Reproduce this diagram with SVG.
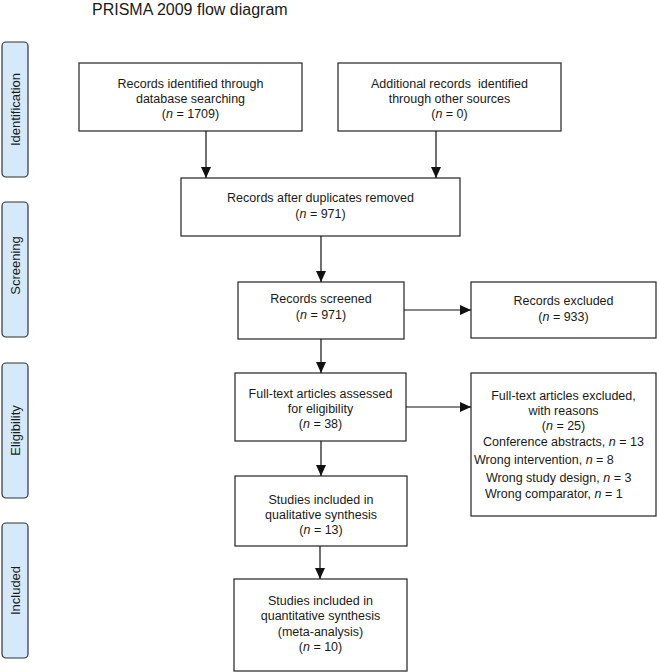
<svg xmlns="http://www.w3.org/2000/svg" width="657" height="672" viewBox="0 0 657 672">
<defs>
<marker id="arr" markerUnits="userSpaceOnUse" markerWidth="12" markerHeight="12" viewBox="0 0 12 12" refX="11" refY="6" orient="auto">
<path d="M0,1 L11,6 L0,11 Z" fill="#111"/>
</marker>
</defs>
<style>
text{font-family:"Liberation Sans",Arial,sans-serif;font-size:12.5px;fill:#1a1a1a;text-anchor:middle}
.title{font-size:16px;text-anchor:start}
.sl{font-size:13px}
.box{fill:#fff;stroke:#222;stroke-width:1.2}
.side{fill:#d6e9fb;stroke:#333;stroke-width:1.2}
.conn{stroke:#111;stroke-width:1.2;fill:none;marker-end:url(#arr)}
.i{font-style:italic}
.l{text-anchor:start}
</style>
<rect width="657" height="672" fill="#fff"/>
<text class="title" x="92" y="15">PRISMA 2009 flow diagram</text>
<g id="phase-identification"><rect class="side" x="2" y="42" width="26" height="135" rx="4"/><text class="sl" transform="translate(19.5,109.5) rotate(-90)">Identification</text></g>
<g id="phase-screening"><rect class="side" x="2" y="202" width="26" height="135" rx="4"/><text class="sl" transform="translate(19.5,265.5) rotate(-90)">Screening</text></g>
<g id="phase-eligibility"><rect class="side" x="2" y="363" width="26" height="135" rx="4"/><text class="sl" transform="translate(19.5,430.5) rotate(-90)">Eligibility</text></g>
<g id="phase-included"><rect class="side" x="2" y="523" width="26" height="135" rx="4"/><text class="sl" transform="translate(19.5,590.5) rotate(-90)">Included</text></g>
<g id="db"><rect class="box" x="79" y="63" width="223" height="68"/><text x="190.5" y="87.5">Records identified through</text><text x="190.5" y="102.5">database searching</text><text x="190.5" y="117.5">(<tspan class="i">n</tspan> = 1709)</text></g>
<g id="other"><rect class="box" x="338" y="63" width="223" height="68"/><text x="449.5" y="88">Additional records&#160; identified</text><text x="449.5" y="103">through other sources</text><text x="449.5" y="118">(<tspan class="i">n</tspan> = 0)</text></g>
<g id="dedup"><rect class="box" x="181" y="178" width="279" height="58"/><text x="320.5" y="201.5">Records after duplicates removed</text><text x="320.5" y="217.5">(<tspan class="i">n</tspan> = 971)</text></g>
<g id="screened"><rect class="box" x="238" y="282" width="166" height="57"/><text x="321" y="302.5">Records screened</text><text x="321" y="318.5">(<tspan class="i">n</tspan> = 971)</text></g>
<g id="excluded"><rect class="box" x="471" y="282" width="185" height="56"/><text x="563.5" y="305">Records excluded</text><text x="563.5" y="320.5">(<tspan class="i">n</tspan> = 933)</text></g>
<g id="fulltext"><rect class="box" x="235" y="373" width="171" height="68"/><text x="320.5" y="397.5">Full-text articles assessed</text><text x="320.5" y="412.5">for eligibility</text><text x="320.5" y="427.5">(<tspan class="i">n</tspan> = 38)</text></g>
<g id="ftexcluded"><rect class="box" x="471" y="373" width="185" height="143"/><text x="563.5" y="399.5">Full-text articles excluded,</text><text x="563.5" y="414.5">with reasons</text><text x="563.5" y="429.5">(<tspan class="i">n</tspan> = 25)</text><text class="l" x="483" y="445.5">Conference abstracts, <tspan class="i">n</tspan> = 13</text><text class="l" x="474" y="463.5">Wrong intervention, <tspan class="i">n</tspan> = 8</text><text class="l" x="486" y="481.5">Wrong study design, <tspan class="i">n</tspan> = 3</text><text class="l" x="485" y="497.5">Wrong comparator, <tspan class="i">n</tspan> = 1</text></g>
<g id="qualitative"><rect class="box" x="235" y="476" width="172" height="70"/><text x="321" y="503.5">Studies included in</text><text x="321" y="518.5">qualitative synthesis</text><text x="321" y="534">(<tspan class="i">n</tspan> = 13)</text></g>
<g id="quantitative"><rect class="box" x="234" y="579" width="173" height="92"/><text x="320.5" y="604.5">Studies included in</text><text x="320.5" y="620">quantitative synthesis</text><text x="320.5" y="635.5">(meta-analysis)</text><text x="320.5" y="650.5">(<tspan class="i">n</tspan> = 10)</text></g>
<g id="connectors">
<line class="conn" x1="206" y1="131" x2="206" y2="178"/>
<line class="conn" x1="436" y1="131" x2="436" y2="178"/>
<line class="conn" x1="321" y1="236" x2="321" y2="282"/>
<line class="conn" x1="404" y1="310" x2="471" y2="310"/>
<line class="conn" x1="321" y1="339" x2="321" y2="373"/>
<line class="conn" x1="406" y1="407" x2="471" y2="407"/>
<line class="conn" x1="321" y1="441" x2="321" y2="476"/>
<line class="conn" x1="320" y1="546" x2="320" y2="579"/>
</g>
</svg>
